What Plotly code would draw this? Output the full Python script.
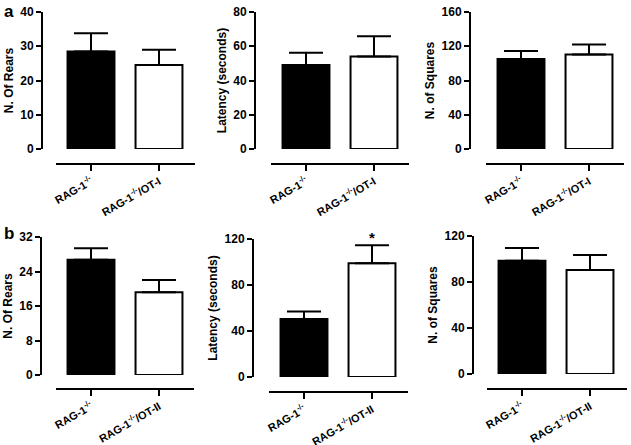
import plotly.graph_objects as go

W, H = 631, 445

# ---- data ----
cats_a = ["RAG-1<sup>-/-</sup>", "RAG-1<sup>-/-</sup>/OT-I"]
cats_b = ["RAG-1<sup>-/-</sup>", "RAG-1<sup>-/-</sup>/OT-II"]

rears_a = [28.5, 24.5]
rears_a_sem = [5.3, 4.5]
latency_a = [49.0, 54.0]
latency_a_sem = [7.2, 11.8]
squares_a = [105.0, 110.5]
squares_a_sem = [9.5, 11.5]

rears_b = [26.7, 19.2]
rears_b_sem = [2.7, 2.8]
latency_b = [50.5, 99.0]
latency_b_sem = [6.5, 15.5]
squares_b = [98.5, 90.5]
squares_b_sem = [11.0, 13.0]

# panel: (values, sem, cats, ytitle, ymax, dtick, geometry)
# geometry: y-axis x px, x-line left px, x-line right px, x-line y px, plot top px, plot bottom px
panels = [
    (rears_a, rears_a_sem, cats_a, "N. Of Rears", 40, 10, (42, 56, 195, 164, 12, 149)),
    (latency_a, latency_a_sem, cats_a, "Latency (seconds)", 80, 20, (255, 271, 409, 164, 12, 149)),
    (squares_a, squares_a_sem, cats_a, "N. of Squares", 160, 40, (470, 486, 624, 164, 12, 149)),
    (rears_b, rears_b_sem, cats_b, "N. Of Rears", 32, 8, (41, 56, 194, 389, 237, 375)),
    (latency_b, latency_b_sem, cats_b, "Latency (seconds)", 120, 40, (253, 269, 408, 392, 239, 377)),
    (squares_b, squares_b_sem, cats_b, "N. of Squares", 120, 40, (473, 487, 627, 389, 236, 374)),
]

FONT = "Liberation Sans"
fig = go.Figure()
layout = {}

for i, (vals, sem, cats, ytitle, ymax, dtick, geo) in enumerate(panels):
    yx, xl, xr, xly, ptop, pbot = geo
    n = i + 1
    xa = "x" if n == 1 else f"x{n}"
    ya = "y" if n == 1 else f"y{n}"
    spacing = 68.0
    first = xl + 35
    r0 = -(first - xl) / spacing
    r1 = (xr - first) / spacing
    fig.add_trace(go.Bar(
        x=[0, 1], y=vals, xaxis=xa, yaxis=ya,
        width=0.69,
        marker=dict(color=["black", "white"], line=dict(color="black", width=2)),
        error_y=dict(type="data", array=sem, arrayminus=[0, 0], symmetric=False,
                     color="black", thickness=2, width=17),
        showlegend=False, hoverinfo="skip",
    ))
    xkey = "xaxis" if n == 1 else f"xaxis{n}"
    ykey = "yaxis" if n == 1 else f"yaxis{n}"
    layout[xkey] = dict(
        domain=[xl / W, xr / W], anchor="free", position=1 - xly / H,
        range=[r0, r1], tickvals=[0, 1], ticktext=cats, automargin=False,
        showline=True, linecolor="black", linewidth=2,
        ticks="outside", ticklen=6, tickwidth=2, tickcolor="black",
        tickangle=-30, showgrid=False, zeroline=False,
        tickfont=dict(family=FONT, size=11, color="black", weight="bold"),
    )
    layout[ykey] = dict(
        domain=[1 - pbot / H, 1 - ptop / H], anchor="free", position=yx / W,
        range=[0, ymax], dtick=dtick, tick0=0, automargin=False,
        showline=True, linecolor="black", linewidth=2,
        ticks="outside", ticklen=5, tickwidth=2, tickcolor="black",
        showgrid=False, zeroline=False,
        tickfont=dict(family=FONT, size=12, color="black", weight="bold"),
        title=dict(text=ytitle, standoff=3,
                   font=dict(family=FONT, size=12, color="black", weight="bold")),
    )

fig.update_layout(
    width=W, height=H, margin=dict(l=0, r=0, t=0, b=0, autoexpand=False),
    paper_bgcolor="white", plot_bgcolor="rgba(0,0,0,0)",
    bargap=0.3, **layout,
)

# significance star on latency b (OT-II)
fig.add_annotation(x=1, y=latency_b[1] + latency_b_sem[1], xref="x5", yref="y5",
                   text="*", showarrow=False, yanchor="bottom", yshift=-3,
                   font=dict(family=FONT, size=15, color="black", weight="bold"))

# panel letters
for letter, py in [("a", 11), ("b", 233)]:
    fig.add_annotation(x=2 / W, y=1 - py / H, xref="paper", yref="paper",
                       text=letter, showarrow=False, xanchor="left", yanchor="middle",
                       font=dict(family=FONT, size=17, color="black", weight="bold"))

fig.write_html("out.html", config={"displayModeBar": False},
               post_script="document.body.style.margin='0';document.body.style.overflow='hidden';")
